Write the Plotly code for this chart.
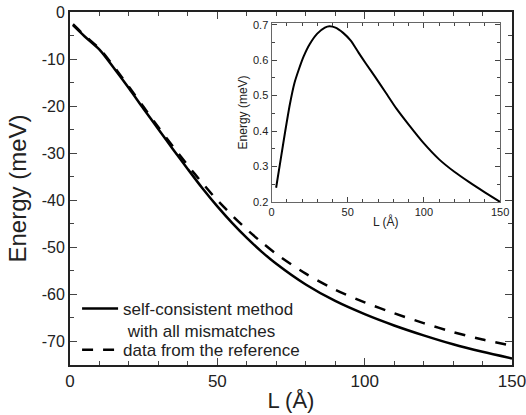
import plotly.graph_objects as go

# Main panel data
L_solid = [1, 5, 10, 15, 20, 25, 30, 35, 40, 45, 50, 55, 60, 65, 70, 80, 90, 100, 110, 120, 130, 140, 150]
E_solid = [-2.8, -5.2, -8.0, -12.0, -16.2, -20.6, -24.9, -29.2, -33.4, -37.5, -41.3, -44.8, -48.0,
           -50.9, -53.5, -57.9, -61.4, -64.2, -66.6, -68.7, -70.6, -72.2, -73.6]
L_ref = [1, 5, 10, 15, 20, 25, 30, 35, 40, 45, 50, 55, 60, 65, 70, 80, 90, 100, 110, 120, 130, 140, 150]
E_ref = [-2.6, -5.0, -7.8, -11.7, -15.9, -20.2, -24.5, -28.6, -32.6, -36.4, -40.0, -43.2, -46.2,
         -48.9, -51.4, -55.6, -59.0, -61.7, -64.0, -66.1, -68.0, -69.6, -70.9]

# Inset data (difference)
L_in = [3, 6, 9, 12, 15, 18, 21, 25, 30, 35, 38, 42, 47, 52, 57, 62, 68, 75, 82, 90, 100, 110, 120, 130, 140, 150]
E_in = [0.24, 0.32, 0.40, 0.475, 0.535, 0.575, 0.61, 0.645, 0.675, 0.692, 0.696, 0.692, 0.677, 0.655,
        0.622, 0.59, 0.553, 0.508, 0.463, 0.418, 0.365, 0.32, 0.285, 0.255, 0.227, 0.20]

x_ticks = [0, 50, 100, 150]
y_ticks = [0, -10, -20, -30, -40, -50, -60, -70]
y_ticktext = ["0", "-10", "-20", "-30", "-40", "-50", "-60", "-70"]
inset_x_ticks = [0, 50, 100, 150]
inset_y_ticks = [0.2, 0.3, 0.4, 0.5, 0.6, 0.7]

FONT = "Arial, Liberation Sans, sans-serif"

fig = go.Figure()
fig.add_trace(go.Scatter(x=L_solid, y=E_solid, mode="lines",
                         line=dict(color="black", width=2.5, shape="spline", smoothing=0.8),
                         name="self-consistent method<br>\u00a0with all mismatches", xaxis="x", yaxis="y",
                         legend="legend"))
fig.add_trace(go.Scatter(x=L_ref, y=E_ref, mode="lines",
                         line=dict(color="black", width=2.5, dash="11px,10px", shape="spline", smoothing=0.8),
                         name="data from the reference", xaxis="x", yaxis="y", legend="legend2"))
fig.add_trace(go.Scatter(x=L_in, y=E_in, mode="lines",
                         line=dict(color="black", width=2, shape="spline", smoothing=0.6),
                         showlegend=False, xaxis="x2", yaxis="y2"))

axis_common = dict(ticks="inside", mirror="allticks", showline=True, linecolor="#222", showgrid=False,
                   zeroline=False, ticklabeloverflow="allow")

legend_common = dict(xanchor="left", yanchor="top", bgcolor="rgba(0,0,0,0)",
                     font=dict(size=17, color="#222"), valign="top", itemwidth=36, tracegroupgap=0)

fig.update_layout(
    width=526, height=415,
    margin=dict(l=70, r=14, t=12, b=50, autoexpand=False),
    paper_bgcolor="white", plot_bgcolor="white",
    font=dict(family=FONT, color="#222"),
    xaxis=dict(domain=[0, 1], range=[0, 150], tickvals=x_ticks, ticklen=7, tickwidth=1.3, linewidth=1.8,
               tickfont=dict(size=17), title=dict(text="L (Å)", font=dict(size=22), standoff=2),
               minor=dict(dtick=10, ticklen=4, ticks="inside", tickwidth=1.2), **axis_common),
    yaxis=dict(domain=[0, 1], range=[-75, 0], tickvals=y_ticks, ticktext=y_ticktext, ticklen=7, tickwidth=1.3,
               linewidth=1.8, tickfont=dict(size=16), title=dict(text="Energy (meV)", font=dict(size=24), standoff=8),
               minor=dict(dtick=5, ticklen=4, ticks="inside", tickwidth=1.2), **axis_common),
    xaxis2=dict(domain=[0.456, 0.973], range=[0, 150], anchor="y2", tickvals=inset_x_ticks, ticklen=5,
                tickwidth=1, linewidth=1.2, linecolor="#666", tickfont=dict(size=11, color="#222"),
                title=dict(text="L (Å)", font=dict(size=12), standoff=0),
                minor=dict(dtick=10, ticklen=3, ticks="inside"),
                ticks="inside", mirror="allticks", showline=True, showgrid=False, zeroline=False),
    yaxis2=dict(domain=[0.462, 0.969], range=[0.2, 0.705], anchor="x2", tickvals=inset_y_ticks, ticklen=5,
                tickwidth=1, linewidth=1.2, linecolor="#666", tickfont=dict(size=11, color="#222"),
                title=dict(text="Energy (meV)", font=dict(size=12), standoff=2),
                minor=dict(dtick=0.05, ticklen=3, ticks="inside"),
                ticks="inside", mirror="allticks", showline=True, showgrid=False, zeroline=False),
    legend=dict(x=0.016, y=0.21, **legend_common),
    legend2=dict(x=0.016, y=0.093, **legend_common),
    showlegend=True,
)

# Remove the default 8px page margin so the figure fills the window exactly; hide the modebar
fig.write_html("out.html", config={"displayModeBar": False},
               post_script="document.body.style.margin='0';document.body.style.overflow='hidden';")
